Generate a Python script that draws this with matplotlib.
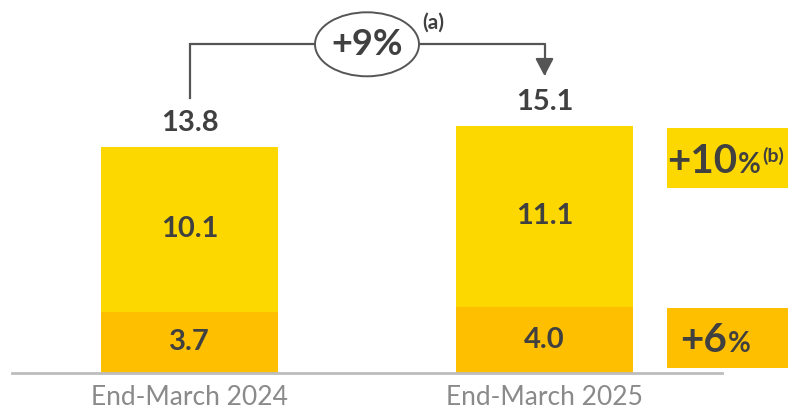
import matplotlib
matplotlib.use("Agg")
import matplotlib.pyplot as plt
from matplotlib.patches import Rectangle, Ellipse

plt.rcParams['font.family'] = ['Lato', 'DejaVu Sans']

# Data
categories = ["End-March 2024", "End-March 2025"]
bottom_values = [3.7, 4.0]
top_values = [10.1, 11.1]
totals = [13.8, 15.1]
total_change = "+9%"
top_change = "+10"
bottom_change = "+6"

TOP_COLOR = "#FCD800"
BOTTOM_COLOR = "#FDBF00"
TEXT_DARK = "#404040"
LINE_GREY = "#555555"

W, H = 788, 409
fig = plt.figure(figsize=(W / 100, H / 100), dpi=100)

def fig_xy(x, y):
    """Pixel position (from top-left) to figure fraction."""
    return x / W, 1 - y / H

base_px = 372.5
ax = fig.add_axes([12 / W, (H - base_px) / H, 710 / W, base_px / H])
ymax = base_px / 16.35
ax.set_xlim(-0.5, 1.5)
ax.set_ylim(0, ymax)

x = list(range(len(categories)))
ax.bar(x, bottom_values, width=0.5, color=BOTTOM_COLOR, edgecolor='none')
ax.bar(x, top_values, width=0.5, bottom=bottom_values, color=TOP_COLOR, edgecolor='none')

for xi, b, t, tot in zip(x, bottom_values, top_values, totals):
    ax.text(xi, b / 2, f"{b:.1f}", ha='center', va='center', fontsize=21,
            fontweight='bold', color=TEXT_DARK)
    ax.text(xi, b + t / 2, f"{t:.1f}", ha='center', va='center', fontsize=21,
            fontweight='bold', color=TEXT_DARK)
    ax.text(xi, tot + 1.47, f"{tot:.1f}", ha='center', va='center', fontsize=21,
            fontweight='bold', color=TEXT_DARK)

# Axis styling
for s in ['top', 'right', 'left']:
    ax.spines[s].set_visible(False)
ax.spines['bottom'].set_color("#BDBDBD")
ax.spines['bottom'].set_linewidth(2)
ax.set_yticks([])
ax.set_xticks(x)
ax.set_xticklabels(categories, fontsize=19, color="#8A8A8A")
ax.tick_params(axis='x', length=0, pad=9)

# Growth bracket between the two totals
y_line = (base_px - 44.3) / 16.35
y_left_end = (base_px - 98) / 16.35
y_arrow_tip = (base_px - 76) / 16.35
ax.plot([0, 0, 0.36], [y_left_end, y_line, y_line], color=LINE_GREY, lw=1.6,
        solid_joinstyle='miter', clip_on=False)
ax.annotate("", xy=(1.0, y_arrow_tip), xytext=(0.64, y_line),
            arrowprops=dict(arrowstyle="-|>,head_length=1.05,head_width=0.55",
                            connectionstyle="angle,angleA=0,angleB=90,rad=0",
                            color=LINE_GREY, lw=1.6, shrinkA=0, shrinkB=0),
            annotation_clip=False)
ell = Ellipse((0.5, y_line), width=104 / 355, height=64 / 16.35, facecolor='white',
              edgecolor=LINE_GREY, lw=1.4, clip_on=False, zorder=3)
ax.add_patch(ell)
ax.text(0.5, y_line, total_change, ha='center', va='center', fontsize=26,
        fontweight='bold', color=TEXT_DARK, zorder=4)
fig.text(*fig_xy(433, 23), "(a)", ha='center', va='center', fontsize=15,
         fontweight='bold', color=TEXT_DARK)

# Segment growth tags on the right
box_top = Rectangle(fig_xy(667, 188), 121 / W, 60 / H, transform=fig.transFigure,
                    facecolor=TOP_COLOR, edgecolor='none')
box_bot = Rectangle(fig_xy(667, 368), 121 / W, 60 / H, transform=fig.transFigure,
                    facecolor=BOTTOM_COLOR, edgecolor='none')
fig.patches.extend([box_top, box_bot])

renderer = fig.canvas.get_renderer()

def tag(x_px, y_px, number, sup=None):
    """Large number followed by a smaller percent sign and optional note."""
    t1 = fig.text(*fig_xy(x_px, y_px), number, ha='left', va='baseline',
                  fontsize=29, fontweight='bold', color=TEXT_DARK)
    x_end = t1.get_window_extent(renderer).x1
    t2 = fig.text(x_end / W + 1 / W, 1 - y_px / H, "%", ha='left', va='baseline',
                  fontsize=20, fontweight='bold', color=TEXT_DARK)
    if sup:
        x_end2 = t2.get_window_extent(renderer).x1
        fig.text(x_end2 / W + 1 / W, 1 - (y_px - 11) / H, sup, ha='left',
                 va='baseline', fontsize=14, fontweight='bold', color=TEXT_DARK)

tag(667, 173, top_change, "(b)")
tag(680, 352, bottom_change)

fig.savefig("out.png", dpi=100)
